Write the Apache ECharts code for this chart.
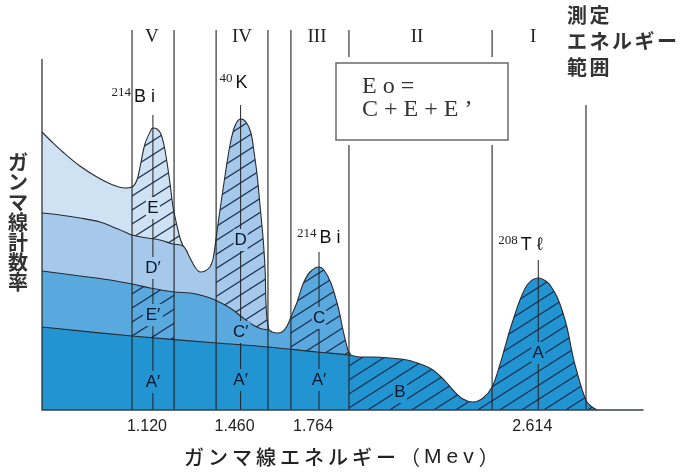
<!DOCTYPE html>
<html><head><meta charset="utf-8">
<script src="https://cdn.jsdelivr.net/npm/echarts@6/dist/echarts.min.js"></script>
<style>html,body{margin:0;padding:0;background:#fff}#c{width:680px;height:473px}</style>
</head><body><div id="c"></div>
<script>
// ---- data (x: gamma-ray energy in MeV, y: relative count rate) ----
const layer4Top = [[0.690,278],[0.729,268],[0.771,258],[0.837,244],[0.903,233],[0.965,225],[1.012,222],[1.039,223],[1.058,230],[1.074,248],[1.089,266],[1.109,278],[1.120,282],[1.136,281],[1.151,276],[1.163,265],[1.175,247],[1.186,227],[1.198,203],[1.210,188],[1.225,172],[1.237,164]];
const layer3Top = [[0.690,197],[0.760,195],[0.837,192],[0.915,188],[0.965,183],[1.012,178],[1.039,175],[1.097,172],[1.147,170],[1.198,166],[1.237,164],[1.264,152],[1.283,143],[1.303,138],[1.322,139],[1.341,143],[1.353,151],[1.365,172],[1.372,185],[1.384,207],[1.400,235],[1.419,265],[1.438,284],[1.460,291],[1.481,288],[1.500,277],[1.512,258],[1.524,235],[1.535,205],[1.547,172],[1.555,140],[1.558,110],[1.562,92],[1.570,80]];
const layer2Top = [[0.690,139],[0.837,134],[0.954,130],[1.039,126],[1.109,122],[1.202,118],[1.264,117],[1.303,115],[1.361,110],[1.419,102],[1.465,93],[1.508,85],[1.543,81],[1.570,80],[1.582,78],[1.601,77],[1.621,78],[1.640,84],[1.655,93],[1.679,108],[1.702,126],[1.729,138],[1.764,143],[1.783,140],[1.810,127],[1.838,103],[1.857,80],[1.876,60],[1.888,55]];
const layer1Top = [[0.690,83],[1.039,74],[1.368,67],[1.566,63],[1.756,58],[1.880,55],[1.923,53],[1.973,53],[2.039,52],[2.105,50],[2.167,45],[2.206,40],[2.233,34],[2.260,27],[2.283,20],[2.322,11],[2.361,8],[2.400,12],[2.435,23],[2.466,46],[2.485,63],[2.504,80],[2.524,96],[2.543,110],[2.574,126],[2.614,132],[2.648,128],[2.667,122],[2.687,113],[2.706,100],[2.725,83],[2.749,53],[2.764,38],[2.776,27],[2.791,15],[2.803,8],[2.822,3],[2.842,0]];

const tickValues = [1.120, 1.460, 1.764, 2.614];
const boundaryE = [1.039, 1.202, 1.365, 1.566, 1.655, 1.880, 2.435, 2.799];
const peakE = [1.120, 1.460, 1.764, 2.614];
const peakTop = [295, 305, 158, 150];
const peakMass = ['214', '40', '214', '208'];
const peakElem = ['B i', 'K', 'B i', 'T ℓ'];
const peakLabelV = [314, 328, 173, 166];
const romanE = [1.116, 1.465, 1.756, 2.144, 2.594];
const romanText = ['V', 'IV', 'III', 'II', 'I'];
const regionLabelE = [1.120, 1.120, 1.120, 1.120, 1.460, 1.460, 1.460, 1.764, 1.764, 2.078, 2.614];
const regionLabelV = [202, 142, 95, 28, 170, 78, 30, 92, 30, 18, 57];
const regionLabelText = ['E', 'D′', 'E′', 'A′', 'D', 'C′', 'A′', 'C', 'A′', 'B', 'A'];
const regionLabelLayer = [4, 3, 2, 1, 3, 2, 1, 2, 1, 1, 1];

// ---- styles ----
const COL = {4: '#cfe2f3', 3: '#a6c8ea', 2: '#5aa9de', 1: '#2394d2'};
const OUT = '#262b33';
const INK = '#06172c';

function makeHatch() {
  const w = 22, h = 14;
  const c = document.createElement('canvas');
  c.width = w; c.height = h;
  const g = c.getContext('2d');
  g.strokeStyle = '#1a3050';
  g.lineWidth = 1.2;
  for (const dx of [-w, 0, w]) {
    g.beginPath();
    g.moveTo(dx - 2, h + 2 * h / w);
    g.lineTo(dx + w + 2, -2 * h / w);
    g.stroke();
  }
  return c;
}
const hatchPattern = {image: makeHatch(), repeat: 'repeat'};
const SM = 0.35;

function layer(data, color) {
  return {type: 'line', data, smooth: SM, symbol: 'none', silent: true,
    lineStyle: {color: OUT, width: 1.1}, areaStyle: {color, opacity: 1}};
}
function hatchS(data, lo, hi) {
  const d = data.filter(p => p[0] >= lo - 1e-9 && p[0] <= hi + 1e-9);
  return {type: 'line', data: d, smooth: SM, symbol: 'none', silent: true,
    lineStyle: {width: 0, opacity: 0}, areaStyle: {color: hatchPattern, opacity: 1}};
}
function vline(x, y0, y1, color, width) {
  return {type: 'line', data: [[x, y0], [x, y1]], symbol: 'none', silent: true,
    lineStyle: {color: color || '#222', width: width || 1.1}, z: 3};
}

const series = [
  layer(layer4Top, COL[4]),
  hatchS(layer4Top, boundaryE[0], 9),
  layer(layer3Top, COL[3]),
  hatchS(layer3Top, boundaryE[2], boundaryE[3] + 0.01),
  layer(layer2Top, COL[2]),
  hatchS(layer2Top, boundaryE[0], boundaryE[1]),
  hatchS(layer2Top, boundaryE[4], 9),
  layer(layer1Top, COL[1]),
  hatchS(layer1Top, boundaryE[5], 9)
];
// y axis line
series.push(vline(0.690, 0, 351, '#222', 1.2));
// region boundaries
boundaryE.forEach((x, i) => {
  if (i === 5 || i === 6) {
    series.push(vline(x, 0, 265));
    series.push(vline(x, 353, 380));
  } else if (i === 7) {
    series.push(vline(x, 0, 305));
  } else {
    series.push(vline(x, 0, 380));
  }
});
// peak marker lines
peakE.forEach((x, i) => series.push(vline(x, 0, peakTop[i], '#222', 1)));

// region letters: a patch of the layer colour behind each letter, then the letter
series.push({
  type: 'custom', silent: true, z: 20, clip: false,
  data: regionLabelE.map((x, i) => [x, regionLabelV[i]]),
  renderItem: (params, api) => {
    const i = params.dataIndex;
    const pt = api.coord([api.value(0), api.value(1)]);
    const w = regionLabelText[i].length > 1 ? 20 : 14;
    return {type: 'group', x: pt[0], y: pt[1], children: [
      {type: 'rect', shape: {x: -w / 2, y: -11, width: w, height: 22}, style: {fill: COL[regionLabelLayer[i]], stroke: null}},
      {type: 'text', style: {text: regionLabelText[i], x: 0, y: 0, fill: INK, opacity: 1,
        fontFamily: 'Liberation Sans', fontSize: 17, align: 'center', verticalAlign: 'middle'}}
    ]};
  }
});
// isotope labels
const peakAlign = ['right', 'right', 'left', 'left'];
const peakDx = [2, 7, -22, -40];
series.push({
  type: 'custom', silent: true, z: 20, clip: false,
  data: peakE.map((x, i) => [x, peakLabelV[i]]),
  renderItem: (params, api) => {
    const i = params.dataIndex;
    const pt = api.coord([api.value(0), api.value(1)]);
    return {type: 'text', x: pt[0] + peakDx[i], y: pt[1], style: {
      text: '{s|' + peakMass[i] + '}{b|' + peakElem[i] + '}',
      align: peakAlign[i], verticalAlign: 'middle',
      rich: {
        s: {fontFamily: 'Liberation Serif', fontSize: 13, fill: '#222', verticalAlign: 'top', lineHeight: 20, padding: [0, 3, 0, 0]},
        b: {fontFamily: 'Liberation Sans', fontSize: 18, fill: '#111', verticalAlign: 'bottom', lineHeight: 20}
      }}};
  }
});
// energy-range numerals
series.push({
  type: 'custom', silent: true, z: 20, clip: false,
  data: romanE.map(x => [x, 373]),
  renderItem: (params, api) => {
    const pt = api.coord([api.value(0), api.value(1)]);
    return {type: 'text', x: pt[0], y: pt[1], style: {text: romanText[params.dataIndex], fill: '#222',
      fontFamily: 'Liberation Serif', fontSize: 19, align: 'center', verticalAlign: 'middle'}};
  }
});

function spaced(str, style) {
  return str.split('').map(c => '{' + style + '|' + c + '}').join('');
}
const xTitle = spaced('ガンマ線エネルギー', 'j') + '{p|（}' + spaced('Mev', 'l') + '{q|）}';
const rangeTitle = spaced('測定', 'r') + '\n' + spaced('エネルギー', 'r') + '\n' + spaced('範囲', 'r');

const chart = echarts.init(document.getElementById('c'), null, {renderer: 'canvas'});
chart.setOption({
  animation: false,
  backgroundColor: '#ffffff',
  grid: {left: 42, right: 37, top: 30, bottom: 63},
  xAxis: {type: 'value', min: 0.69, max: 3.02, z: 5,
    axisLine: {show: true, lineStyle: {color: '#3a4048', width: 1.5}},
    axisTick: {show: false}, splitLine: {show: false},
    axisLabel: {customValues: tickValues, formatter: v => v.toFixed(3), fontFamily: 'Liberation Sans',
      fontSize: 16, color: '#222', margin: 9, padding: [0, 12, 0, 0]}},
  yAxis: {type: 'value', min: 0, max: 380, show: false},
  series,
  graphic: [
    {type: 'rect', z: 10, shape: {x: 336, y: 63, width: 172, height: 77},
      style: {fill: '#fff', stroke: '#6a6a6a', lineWidth: 1.5}},
    {type: 'text', z: 11, style: {text: 'E o =', x: 362, y: 87, verticalAlign: 'middle', align: 'left',
      fontFamily: 'Liberation Serif', fontSize: 24, fill: '#333'}},
    {type: 'text', z: 11, style: {text: 'C + E + E ’', x: 362, y: 110, verticalAlign: 'middle', align: 'left',
      fontFamily: 'Liberation Serif', fontSize: 24, fill: '#333'}},
    {type: 'text', z: 11, style: {text: 'ガ\nン\nマ\n線\n計\n数\n率', x: 18, y: 152, align: 'center', verticalAlign: 'top',
      fontFamily: 'Noto Sans CJK JP', fontWeight: 'bold', fontSize: 20, lineHeight: 20, fill: '#333'}},
    {type: 'text', z: 11, style: {text: xTitle, x: 184, y: 457, align: 'left', verticalAlign: 'middle',
      rich: {
        j: {fontFamily: 'Noto Sans CJK JP', fontWeight: 500, fontSize: 20, fill: '#222', padding: [0, 4, 0, 0]},
        p: {fontFamily: 'Noto Sans CJK JP', fontSize: 20, fill: '#222', padding: [0, 4, 0, 0]},
        q: {fontFamily: 'Noto Sans CJK JP', fontSize: 20, fill: '#222'},
        l: {fontFamily: 'Liberation Sans', fontSize: 21, fill: '#222', padding: [0, 5, 0, 0]}
      }}},
    {type: 'text', z: 11, style: {text: rangeTitle, x: 567, y: 2, align: 'left', verticalAlign: 'top',
      rich: {r: {fontFamily: 'Noto Sans CJK JP', fontWeight: 'bold', fontSize: 20, lineHeight: 26, fill: '#333', padding: [0, 2.5, 0, 0]}}}}
  ]
});
</script></body></html>
